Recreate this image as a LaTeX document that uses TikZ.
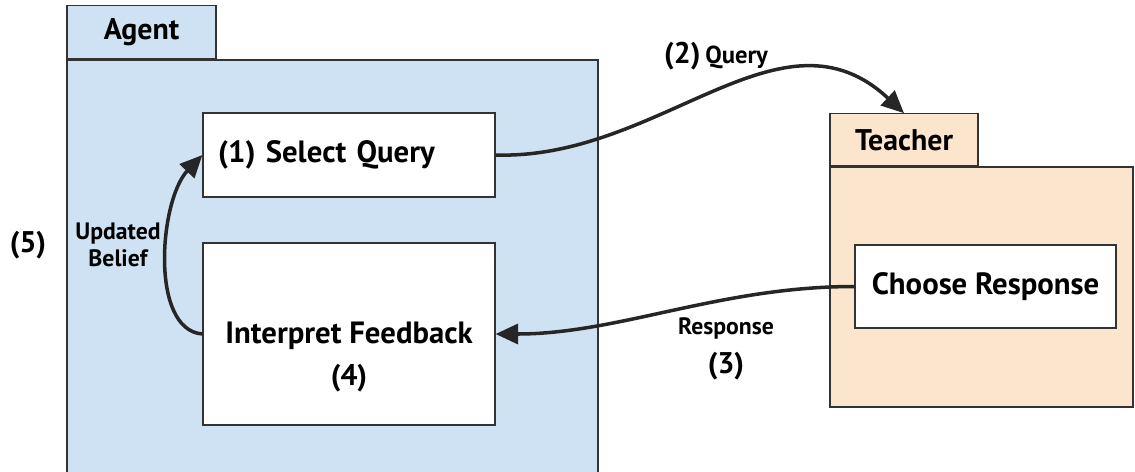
\documentclass[tikz,border=0pt]{standalone}
\usepackage{fontspec}
\setmainfont{PT Sans}
\usetikzlibrary{arrows.meta, positioning}
\usepackage{xcolor}
\definecolor{agentblue}{HTML}{CFE2F3}
\definecolor{teacherorange}{HTML}{FCE5CD}
\definecolor{edgegray}{HTML}{333333}

\begin{document}
\begin{tikzpicture}[
    x=0.02cm, y=-0.02cm,
    frame/.style={rectangle, draw=edgegray, line width=0.7pt, inner sep=0pt},
    tab/.style={frame, font=\fontsize{17}{20}\selectfont\bfseries},
    box/.style={rectangle, draw=edgegray, fill=white, line width=0.7pt, font=\fontsize{17.5}{20}\selectfont\bfseries},
    num/.style={font=\fontsize{17}{20}\selectfont\bfseries},
    small/.style={font=\fontsize{13.5}{15.5}\selectfont\bfseries, align=center},
    arr/.style={-{Triangle[length=4.5mm, width=4mm]}, line width=2pt, draw=black!85}
]
    \useasboundingbox (0,0) rectangle (1135,471);

    % Containers
    \node[frame, fill=agentblue, minimum width=10.62cm, minimum height=8.6cm] (agent) at (332.5,275) {};
    \node[tab, fill=agentblue, minimum width=2.98cm, minimum height=1.06cm, above right=0cm and 0cm of agent.north west] (agenttab) {Agent};
    \node[frame, fill=teacherorange, minimum width=6.06cm, minimum height=4.8cm] (teacher) at (981.5,287) {};
    \node[tab, fill=teacherorange, minimum width=2.96cm, minimum height=1.04cm, above right=0cm and 0cm of teacher.north west] (teachertab) {Teacher};

    % Nodes
    \node[box, text width=5.24cm, inner xsep=0.3cm, minimum height=1.68cm, align=left] (select) at (349,155) {(1) Select Query};
    \node[box, minimum width=5.84cm, minimum height=3.64cm] (feedback) at (349,334) {};
    \node[font=\fontsize{17.5}{20}\selectfont\bfseries, align=center] (feedbacktext) at (349,357) {Interpret Feedback\\[4pt]{\fontsize{17}{20}\selectfont (4)}};
    \node[box, minimum width=5.22cm, minimum height=1.66cm] (respond) at (985.5,286.5) {Choose Response};

    % Labels
    \node[num] (loop) at (28,245) {(5)};
    \node[small] (belief) at (118,245) {Updated\\Belief};
    \node (querylabel) at (716,56) {{\fontsize{17}{20}\selectfont\bfseries (2)} {\fontsize{14}{16}\selectfont\bfseries Query}};
    \node[small] (resplabel) at (726,328) {Response};
    \node[num] (resp) at (726,366) {(3)};

    % Arrows
    \draw[arr] (select.east) .. controls +(165,5) and +(-123,-115) .. (teachertab.north);
    \draw[arr] (respond.west) .. controls +(-135,0) and +(123,0) .. (feedback.east);
    \draw[arr] (feedback.west) .. controls +(-53,-4) and +(-43,45) .. (select.west);

\end{tikzpicture}
\end{document}
